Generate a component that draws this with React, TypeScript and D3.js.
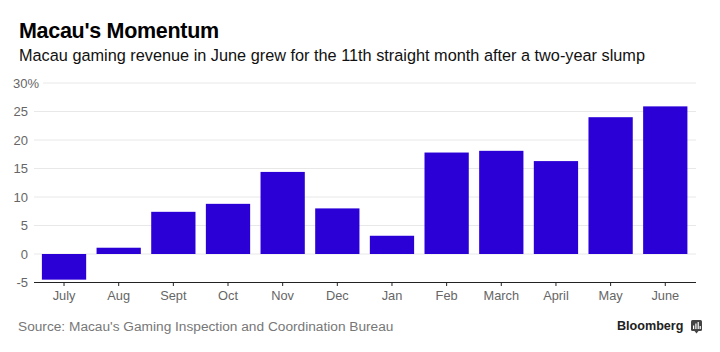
import React from "react";
import * as d3 from "d3";

const months = ["July", "Aug", "Sept", "Oct", "Nov", "Dec", "Jan", "Feb", "March", "April", "May", "June"];
const growth = [-4.5, 1.1, 7.4, 8.8, 14.4, 8.0, 3.2, 17.8, 18.1, 16.3, 24.0, 25.9];
const yTicks = [-5, 0, 5, 10, 15, 20, 25, 30];

const FONT = "'Liberation Sans', Arial, sans-serif";

export default function App() {
  const x = d3.scaleBand<string>().domain(months).range([36.7, 692.6]).paddingInner(0.19).paddingOuter(0.095);
  const y = d3.scaleLinear().domain([-5, 30]).range([282.5, 83]);
  return (
    <svg width={720} height={352} style={{ position: "absolute", left: 0, top: 0, background: "#fff" }} fontFamily={FONT}>
      <text x={19} y={38} fontSize={21.5} fontWeight={700} fill="#000" letterSpacing={-0.3}>Macau's Momentum</text>
      <text x={19} y={61} fontSize={16.3} fill="#111">Macau gaming revenue in June grew for the 11th straight month after a two-year slump</text>

      {yTicks.filter((t) => t !== -5).map((t) => (
        <line key={t} x1={t === 30 ? 43 : 34} x2={696} y1={y(t)} y2={y(t)} stroke="#e8e8e8" strokeWidth={1} />
      ))}
      {yTicks.map((t) => (
        <text key={t} x={t === 30 ? 39 : 28} y={y(t) + 4.5} fontSize={13} fill="#666" textAnchor="end">
          {t === 30 ? "30%" : t}
        </text>
      ))}

      {months.map((m, i) => (
        <rect
          key={m}
          x={x(m)}
          width={x.bandwidth()}
          y={y(Math.max(0, growth[i]))}
          height={Math.abs(y(growth[i]) - y(0))}
          fill="#2b00d7"
        />
      ))}

      <line x1={34} x2={696} y1={282.5} y2={282.5} stroke="#222" strokeWidth={1} />
      {months.map((m) => {
        const c = x(m)! + x.bandwidth() / 2;
        return (
          <g key={m}>
            <line x1={c} x2={c} y1={282.5} y2={286} stroke="#222" strokeWidth={1} />
            <text x={c} y={300} fontSize={12.8} fill="#666" textAnchor="middle">{m}</text>
          </g>
        );
      })}

      <text x={18} y={331} fontSize={13.7} fill="#777">Source: Macau's Gaming Inspection and Coordination Bureau</text>
      <text x={617} y={330} fontSize={12.6} fontWeight={700} fill="#222">Bloomberg</text>
      <g>
        <rect x={691} y={320} width={11} height={11} rx={1.5} fill="#444" />
        <path d="M694.5 331 L696.5 333.5 L698.5 331 Z" fill="#444" />
        <rect x={693} y={325.5} width={1.2} height={3.5} fill="#fff" />
        <rect x={695.3} y={323.5} width={1.2} height={5.5} fill="#fff" />
        <rect x={697.6} y={322} width={1.2} height={7} fill="#fff" />
        <rect x={699.6} y={326} width={1.2} height={3} fill="#fff" />
      </g>
    </svg>
  );
}
